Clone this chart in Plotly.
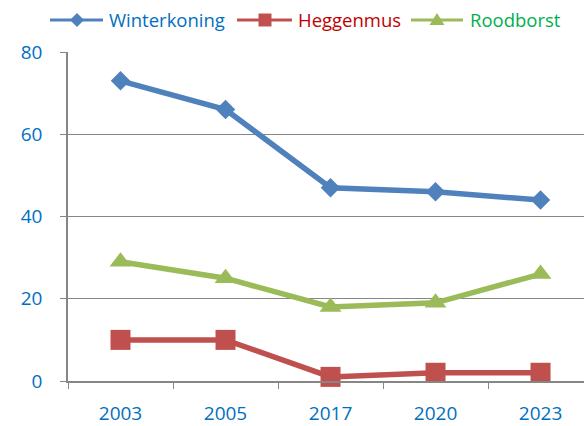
import plotly.graph_objects as go

years = ["2003", "2005", "2017", "2020", "2023"]
winterkoning = [73, 66, 47, 46, 44]
heggenmus = [10, 10, 1, 2, 2]
roodborst = [29, 25, 18, 19, 26]

FONT = "Open Sans"
W, H = 584, 426
ML, MT, MB = 68, 52, 45
PW, PH = W - ML, H - MT - MB


def px_x(p):
    return (p - ML) / PW


def px_y(p):
    return (H - MB - p) / PH


fig = go.Figure()

series = [
    ("Winterkoning", winterkoning, "#4F81BD", "diamond", 15, "#0070C0"),
    ("Heggenmus", heggenmus, "#C0504D", "square", 20, "#C00000"),
    ("Roodborst", roodborst, "#9BBB59", "triangle-up", 19, "#00B050"),
]
for name, vals, col, sym, sz, tcol in series:
    fig.add_trace(go.Scatter(
        x=years, y=vals, mode="lines+markers", name=name,
        line=dict(color=col, width=5.5),
        marker=dict(symbol=sym, size=sz, color=col, line=dict(width=0)),
        cliponaxis=False, showlegend=False,
    ))

# custom legend (line + marker + text)
leg_y = px_y(20)
legend_items = [
    (50, 103, 77, 108, "M-7,0 L0,7 L7,0 L0,-7 Z"),
    (237, 292, 265, 297, "M-6.5,-6.5 H6.5 V6.5 H-6.5 Z"),
    (411, 463, 437, 469, "M-7.5,-5 H7.5 L0,7 Z"),
]
shapes = []
annotations = []
for (name, vals, col, sym, sz, tcol), (lx0, lx1, mx, tx, path) in zip(series, legend_items):
    shapes.append(dict(type="line", xref="paper", yref="paper",
                       x0=px_x(lx0), x1=px_x(lx1), y0=leg_y, y1=leg_y,
                       line=dict(color=col, width=3)))
    shapes.append(dict(type="path", xref="paper", yref="paper",
                       xsizemode="pixel", ysizemode="pixel",
                       xanchor=px_x(mx), yanchor=leg_y, path=path,
                       fillcolor=col, line=dict(width=0)))
    annotations.append(dict(text=name, xref="paper", yref="paper",
                            x=px_x(tx) - 0.002, y=leg_y, xanchor="left",
                            yanchor="middle", showarrow=False,
                            font=dict(family=FONT, size=18.5, color=tcol)))

fig.update_layout(
    width=W, height=H,
    margin=dict(l=ML, r=0, t=MT, b=MB, autoexpand=False),
    paper_bgcolor="white", plot_bgcolor="white",
    font=dict(family=FONT, size=19, color="#0070C0"),
    showlegend=False,
    shapes=shapes, annotations=annotations,
    xaxis=dict(type="category", range=[-0.5, 4.414], tickson="boundaries",
               ticks="outside", ticklen=6, tickcolor="#868686",
               showline=True, linecolor="#868686", linewidth=1.5,
               showgrid=False, ticklabelstandoff=14, automargin=False,
               tickfont=dict(family=FONT, size=19, color="#0070C0")),
    yaxis=dict(range=[0, 80], dtick=20, ticks="outside", ticklen=6,
               tickcolor="#868686", showline=True, linecolor="#868686",
               linewidth=1.5, gridcolor="#868686", gridwidth=1.2,
               zeroline=False, ticklabelstandoff=14, automargin=False,
               tickfont=dict(family=FONT, size=19, color="#0070C0")),
)

fig.write_html("out.html", config={"displayModeBar": False},
               post_script="document.body.style.margin='0px';")
